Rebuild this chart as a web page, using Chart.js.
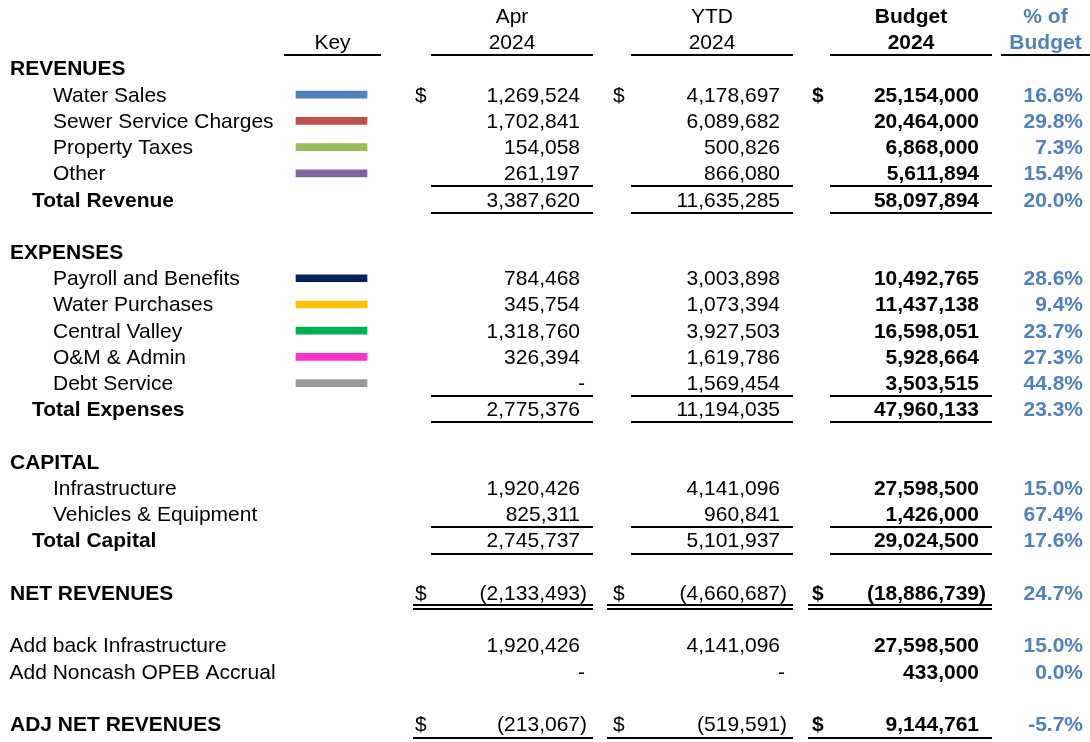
<!DOCTYPE html>
<html>
<head>
<meta charset="utf-8">
<script src="https://cdn.jsdelivr.net/npm/chart.js@4.4.1/dist/chart.umd.min.js"></script>
<style>
  html, body { margin: 0; padding: 0; background: #fff; }
  canvas { display: block; }
</style>
</head>
<body>
<canvas id="chart-budget" width="1090" height="742"></canvas>
<script>
// rows of the statement, top to bottom (after the two header lines)
const rowLabels = [
  'REVENUES', 'Water Sales', 'Sewer Service Charges', 'Property Taxes', 'Other', 'Total Revenue', '',
  'EXPENSES', 'Payroll and Benefits', 'Water Purchases', 'Central Valley', 'O&M & Admin', 'Debt Service', 'Total Expenses', '',
  'CAPITAL', 'Infrastructure', 'Vehicles & Equipment', 'Total Capital', '',
  'NET REVENUES', '',
  'Add back Infrastructure', 'Add Noncash OPEB Accrual', '',
  'ADJ NET REVENUES',
];
const rowKinds = [
  'section', 'item', 'item', 'item', 'item', 'total', 'blank',
  'section', 'item', 'item', 'item', 'item', 'item', 'total', 'blank',
  'section', 'item', 'item', 'total', 'blank',
  'net', 'blank',
  'plain', 'plain', 'blank',
  'adj',
];
const aprValues = [
  null, 1269524, 1702841, 154058, 261197, 3387620, null,
  null, 784468, 345754, 1318760, 326394, 0, 2775376, null,
  null, 1920426, 825311, 2745737, null,
  -2133493, null,
  1920426, 0, null,
  -213067,
];
const ytdValues = [
  null, 4178697, 6089682, 500826, 866080, 11635285, null,
  null, 3003898, 1073394, 3927503, 1619786, 1569454, 11194035, null,
  null, 4141096, 960841, 5101937, null,
  -4660687, null,
  4141096, 0, null,
  -519591,
];
const budgetValues = [
  null, 25154000, 20464000, 6868000, 5611894, 58097894, null,
  null, 10492765, 11437138, 16598051, 5928664, 3503515, 47960133, null,
  null, 27598500, 1426000, 29024500, null,
  -18886739, null,
  27598500, 433000, null,
  9144761,
];
const pctOfBudget = [
  null, 16.6, 29.8, 7.3, 15.4, 20.0, null,
  null, 28.6, 9.4, 23.7, 27.3, 44.8, 23.3, null,
  null, 15.0, 67.4, 17.6, null,
  24.7, null,
  15.0, 0.0, null,
  -5.7,
];
const keyColors = [
  null, '#4F81BD', '#C0504D', '#9BBB59', '#8064A2', null, null,
  null, '#002060', '#FFC000', '#00B050', '#FF33CC', '#999999', null, null,
  null, null, null, null, null,
  null, null,
  null, null, null,
  null,
];
const dollarRows = ['Water Sales', 'NET REVENUES', 'ADJ NET REVENUES'];
const headerTop = ['', 'Apr', 'YTD', 'Budget', '% of'];
const headerBottom = ['Key', '2024', '2024', '2024', 'Budget'];

// layout (x in canvas units, rows in row units)
const FONT = '"Liberation Sans", Arial, sans-serif';
const SIZE = 21;
const BLUE = '#4F81BD';
const FIRST_ROW = 2; // two header lines above
const headerCols = [
  { from: 284, to: 381, bold: false, color: '#000' },
  { from: 431, to: 593, bold: false, color: '#000' },
  { from: 631, to: 793, bold: false, color: '#000' },
  { from: 830, to: 992, bold: true, color: '#000' },
  { from: 1001, to: 1090, bold: true, color: BLUE },
];
const moneyCols = [
  { values: aprValues, dollar: 415, right: 587, bold: false, cell: [431, 593], wide: [413, 593] },
  { values: ytdValues, dollar: 613, right: 787, bold: false, cell: [631, 793], wide: [607, 793] },
  { values: budgetValues, dollar: 812, right: 986, bold: true, cell: [830, 992], wide: [808, 992] },
];
const labelX = { section: 10, item: 53, total: 32, net: 10, adj: 10, plain: 9.5 };
const keySpan = [296, 367];

const fmt = (v) => Math.abs(v).toLocaleString('en-US');

const tablePlugin = {
  id: 'tableText',
  afterDatasetsDraw(chart) {
    const { ctx, scales: { x, y } } = chart;
    const px = (v) => x.getPixelForValue(v);
    const base = (k) => y.getPixelForValue(k) + 7;
    const font = (bold) => (bold ? 'bold ' : '') + SIZE + 'px ' + FONT;
    const hline = (x1, x2, yy, w) => {
      ctx.fillStyle = '#000';
      ctx.fillRect(px(x1), Math.round(yy - w / 2), px(x2) - px(x1), w);
    };
    ctx.save();
    ctx.textBaseline = 'alphabetic';

    // headers
    headerCols.forEach((c, i) => {
      const cx = (px(c.from) + px(c.to)) / 2;
      ctx.font = font(c.bold);
      ctx.fillStyle = c.color;
      ctx.textAlign = 'center';
      if (headerTop[i]) ctx.fillText(headerTop[i], cx, base(0));
      ctx.fillText(headerBottom[i], cx, base(1));
      hline(c.from, c.to, y.getPixelForValue(1.47), 2);
    });

    rowLabels.forEach((label, i) => {
      const kind = rowKinds[i];
      if (kind === 'blank') return;
      const k = i + FIRST_ROW;
      const by = base(k);
      const boldRow = kind === 'section' || kind === 'total' || kind === 'net' || kind === 'adj';

      ctx.textAlign = 'left';
      ctx.fillStyle = '#000';
      ctx.font = font(boldRow);
      ctx.fillText(label, px(labelX[kind]), by);

      moneyCols.forEach((col) => {
        const v = col.values[i];
        if (v === null) return;
        ctx.font = font(col.bold);
        ctx.fillStyle = '#000';
        if (dollarRows.includes(label)) {
          ctx.textAlign = 'left';
          ctx.fillText('$', px(col.dollar), by);
        }
        ctx.textAlign = 'right';
        const paren = ctx.measureText(')').width;
        if (v < 0) ctx.fillText('(' + fmt(v) + ')', px(col.right), by);
        else if (v === 0) ctx.fillText('-', px(col.right) - 2, by);
        else ctx.fillText(fmt(v), px(col.right) - paren, by);

        if (kind === 'total') {
          hline(col.cell[0], col.cell[1], y.getPixelForValue(k - 0.5), 2);
          hline(col.cell[0], col.cell[1], y.getPixelForValue(k + 0.5), 2);
        } else if (kind === 'net') {
          hline(col.wide[0], col.wide[1], y.getPixelForValue(k + 0.46), 2);
          hline(col.wide[0], col.wide[1], y.getPixelForValue(k + 0.63), 2);
        } else if (kind === 'adj') {
          hline(col.wide[0], col.wide[1], y.getPixelForValue(k + 0.52), 2);
        }
      });

      const p = pctOfBudget[i];
      if (p !== null) {
        ctx.font = font(true);
        ctx.fillStyle = BLUE;
        ctx.textAlign = 'right';
        ctx.fillText(p.toFixed(1) + '%', px(1083), by);
      }
    });
    ctx.restore();
  },
};

const keyData = [];
const keyBg = [];
keyColors.forEach((c, i) => {
  if (!c) return;
  keyData.push({ x: keySpan, y: i + FIRST_ROW });
  keyBg.push(c);
});

const ROW_H = 26.22;
const TOP_PX = 16.04; // pixel centre of header line 0
const canvas = document.getElementById('chart-budget');
new Chart(canvas.getContext('2d'), {
  type: 'bar',
  plugins: [tablePlugin],
  data: {
    datasets: [
      {
        data: keyData,
        backgroundColor: keyBg,
        barThickness: 7,
        borderWidth: 0,
      },
    ],
  },
  options: {
    indexAxis: 'y',
    responsive: false,
    animation: false,
    devicePixelRatio: 1,
    events: [],
    layout: { padding: 0, autoPadding: false },
    plugins: { legend: { display: false }, tooltip: { enabled: false } },
    scales: {
      x: { type: 'linear', min: 0, max: 1090, display: false, offset: false },
      y: {
        type: 'linear',
        reverse: true,
        offset: false,
        min: -TOP_PX / ROW_H,
        max: (742 - TOP_PX) / ROW_H,
        display: false,
      },
    },
  },
});
</script>
</body>
</html>
